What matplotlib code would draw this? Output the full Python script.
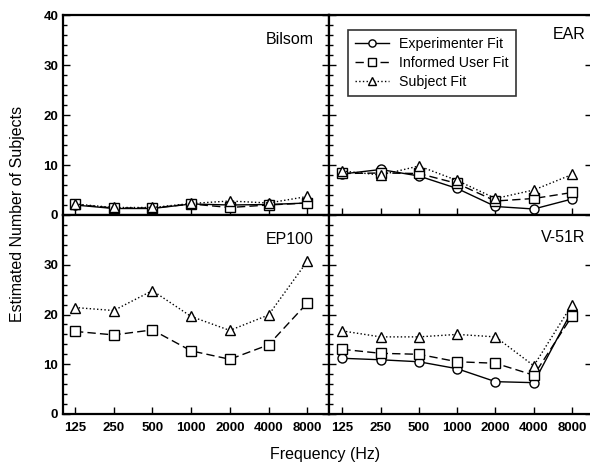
import matplotlib
matplotlib.use("Agg")
import matplotlib.pyplot as plt
from matplotlib.ticker import MultipleLocator

plt.rcParams['font.family'] = ['Liberation Sans', 'DejaVu Sans']

freqs = ["125", "250", "500", "1000", "2000", "4000", "8000"]

# Bilsom
bil_exp = [2.0, 1.3, 1.3, 2.2, 2.0, 2.1, 2.4]
bil_inf = [2.1, 1.4, 1.4, 2.2, 1.5, 2.0, 2.4]
bil_sub = [2.2, 1.5, 1.5, 2.3, 2.8, 2.4, 3.7]
# EAR
ear_exp = [8.2, 9.1, 7.8, 5.3, 1.7, 1.2, 3.2]
ear_inf = [8.3, 8.4, 8.3, 6.3, 2.8, 3.3, 4.5]
ear_sub = [8.8, 8.0, 9.8, 6.9, 3.3, 5.0, 8.1]
# EP100
ep_inf = [16.6, 15.9, 16.9, 12.7, 11.0, 13.9, 22.3]
ep_sub = [21.4, 20.8, 24.8, 19.6, 16.8, 19.9, 30.7]
# V-51R
v_exp = [11.2, 10.9, 10.5, 9.1, 6.5, 6.3, 20.8]
v_inf = [13.0, 12.2, 12.0, 10.5, 10.2, 7.8, 19.7]
v_sub = [16.7, 15.5, 15.5, 16.0, 15.5, 9.7, 22.0]

series_names = ["Experimenter Fit", "Informed User Fit", "Subject Fit"]

W, H = 590, 470
fig = plt.figure(figsize=(W / 100, H / 100), dpi=100)

def fx(px):
    return px / W

def fy(py):
    return 1 - py / H

L, M, R = 63, 329.3, 592
T, C, B = 15, 215, 414

ax_tl = fig.add_axes([fx(L), fy(C), fx(M - L), fy(T) - fy(C)])
ax_tr = fig.add_axes([fx(M), fy(C), fx(R - M), fy(T) - fy(C)])
ax_bl = fig.add_axes([fx(L), fy(B), fx(M - L), fy(C) - fy(B)])
ax_br = fig.add_axes([fx(M), fy(B), fx(R - M), fy(C) - fy(B)])

styles = [
    dict(linestyle='-', marker='o'),
    dict(linestyle=(0, (6, 3)), marker='s'),
    dict(linestyle=':', marker='^'),
]

def plot_series(ax, data):
    x = list(range(len(freqs)))
    for idx, vals in data:
        ax.plot(x, vals, color='black', linewidth=1.0, markersize=6.5,
                markerfacecolor='white', markeredgecolor='black',
                markeredgewidth=1.0, label=series_names[idx], **styles[idx])

plot_series(ax_tl, [(0, bil_exp), (1, bil_inf), (2, bil_sub)])
plot_series(ax_tr, [(0, ear_exp), (1, ear_inf), (2, ear_sub)])
plot_series(ax_bl, [(1, ep_inf), (2, ep_sub)])
plot_series(ax_br, [(0, v_exp), (1, v_inf), (2, v_sub)])

ax_tl.set_xlim(-0.31, 6.57)
ax_bl.set_xlim(-0.31, 6.57)
ax_tr.set_xlim(-0.34, 6.52)
ax_br.set_xlim(-0.34, 6.52)

for ax in (ax_tl, ax_tr, ax_bl, ax_br):
    ax.set_ylim(0, 40)
    ax.yaxis.set_major_locator(MultipleLocator(10))
    ax.yaxis.set_minor_locator(MultipleLocator(2))
    ax.set_xticks(range(len(freqs)))
    for s in ax.spines.values():
        s.set_linewidth(1.6)
    ax.tick_params(axis='x', direction='in', length=5, width=1.0,
                   labelsize=9.5, pad=6, top=False)
    ax.tick_params(axis='y', which='major', direction='in', length=5,
                   width=1.0, labelsize=9.5)
    ax.tick_params(axis='y', which='minor', direction='in', length=3,
                   width=1.0)

for ax in (ax_tl, ax_tr):
    ax.set_xticklabels([])

for ax in (ax_bl, ax_br):
    ax.set_xticklabels(freqs, fontweight='bold')

ax_tl.set_yticks([0, 10, 20, 30, 40])
ax_tl.set_yticklabels(["0", "10", "20", "30", "40"], fontweight='bold')
ax_bl.set_yticks([0, 10, 20, 30, 40])
ax_bl.set_yticklabels(["0", "10", "20", "30", ""], fontweight='bold')

for ax in (ax_tl, ax_bl):
    ax.tick_params(axis='y', which='both', right=True, left=True)
for ax in (ax_tr, ax_br):
    ax.tick_params(axis='y', which='both', labelleft=False, left=True)
    ax.tick_params(axis='y', which='major', right=True)
    ax.tick_params(axis='y', which='minor', right=False)

label_kw = dict(fontsize=11.5, ha='right', va='top')
ax_tl.text(0.94, 0.915, "Bilsom", transform=ax_tl.transAxes, **label_kw)
ax_tr.text(0.975, 0.94, "EAR", transform=ax_tr.transAxes, **label_kw)
ax_bl.text(0.94, 0.915, "EP100", transform=ax_bl.transAxes, **label_kw)
ax_br.text(0.975, 0.925, "V-51R", transform=ax_br.transAxes, **label_kw)

leg = ax_tr.legend(loc='upper left', bbox_to_anchor=(0.072, 0.925),
                   borderaxespad=0.0,
                   fontsize=10.2, frameon=True, fancybox=False,
                   edgecolor='black', handlelength=2.4, borderpad=0.5,
                   labelspacing=0.35, handletextpad=0.7, markerscale=0.8)
leg.get_frame().set_linewidth(1.2)

fig.text(fx(325), fy(455), "Frequency (Hz)", ha='center', va='center',
         fontsize=11.5)
fig.text(fx(18), fy(214), "Estimated Number of Subjects", ha='center',
         va='center', rotation=90, fontsize=11.5)

fig.savefig("out.png", dpi=100)
